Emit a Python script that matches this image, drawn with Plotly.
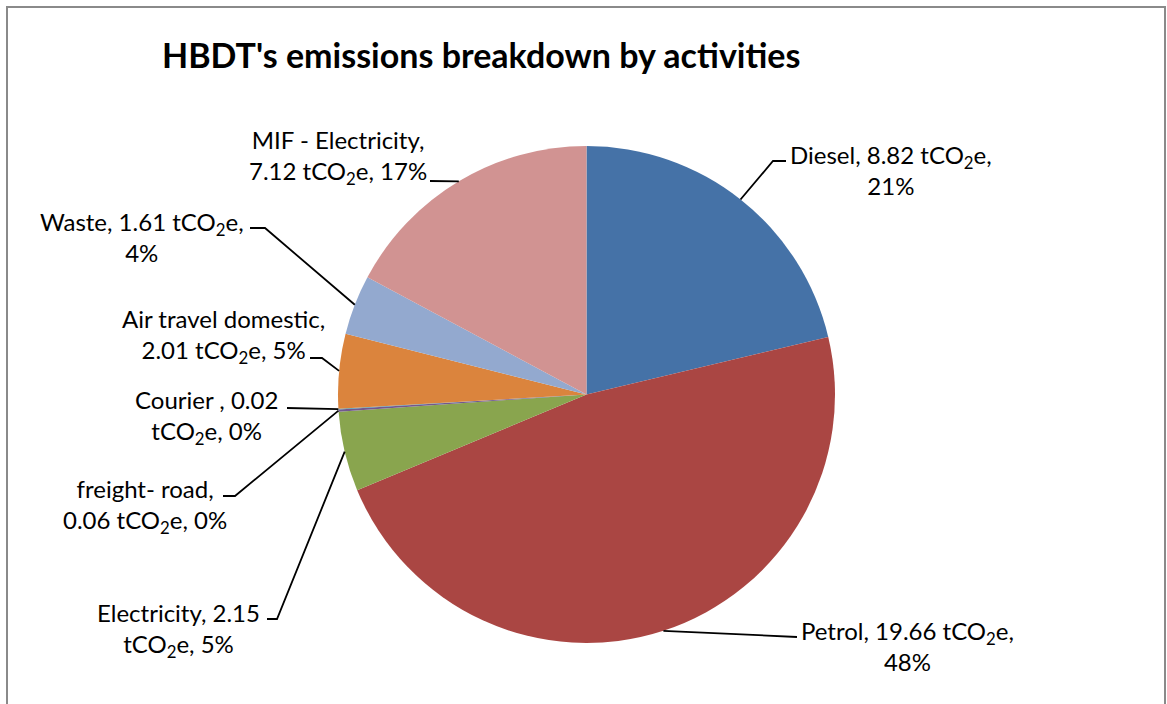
import math
import plotly.graph_objects as go

# ---------------- data ----------------
activities = ["Diesel", "Petrol", "Electricity", "freight- road", "Courier ",
              "Air travel domestic", "Waste", "MIF - Electricity"]
emissions_t = [8.82, 19.66, 2.15, 0.06, 0.02, 2.01, 1.61, 7.12]
share_labels = ["21%", "48%", "5%", "0%", "0%", "5%", "4%", "17%"]
title_text = "HBDT's emissions breakdown by activities"

# ---------------- styles / layout ----------------
colors = ["#4572A7", "#AA4643", "#89A54E", "#71588F", "#4198AF",
          "#DB843D", "#93A9CF", "#D19392"]
# where each label wraps: after the activity name, after the number, or after the unit
wrap_after = ["unit", "unit", "value", "label", "value", "label", "unit", "label"]
# label block centres (pixels), leader elbow and leader end (pixels; None = straight)
label_pos = [(891, 170), (907, 646), (178, 630), (145, 506),
             (206, 417), (223, 336), (142, 237), (338, 157)]
leader_elbow = [(773, 161), None, (277, 619), (235, 496),
                None, (322, 358), (265, 228), None]
leader_end = [(786, 161), (797, 637), (267, 619), (223, 496),
              (287, 408), (310, 358), (250, 228), (430, 181)]

W, H = 1167, 704
cx, cy, r = 586.5, 394.5, 248.5
FONT = "Lato"

fig = go.Figure()
fig.add_trace(go.Pie(
    labels=activities, values=emissions_t, sort=False, direction="clockwise",
    rotation=0, textinfo="none", showlegend=False,
    marker=dict(colors=colors, line=dict(width=0)),
    domain=dict(x=[(cx - r) / W, (cx + r) / W], y=[1 - (cy + r) / H, 1 - (cy - r) / H]),
))

# invisible pixel-space axes for labels and leader lines
fig.add_trace(go.Scatter(x=[0, W], y=[0, H], mode="markers",
                         marker=dict(opacity=0), hoverinfo="skip", showlegend=False))

total = sum(emissions_t)
cum = 0.0
shapes = []
annotations = []
for i, v in enumerate(emissions_t):
    theta = 2 * math.pi * (cum + v / 2) / total
    cum += v
    sx = cx + r * math.sin(theta)
    sy = cy - r * math.cos(theta)
    pts = [(sx, sy)]
    if leader_elbow[i] is not None:
        pts.append(leader_elbow[i])
    pts.append(leader_end[i])
    path = "M " + " L ".join(f"{px:.1f},{py:.1f}" for px, py in pts)
    shapes.append(dict(type="path", path=path, xref="x", yref="y",
                       line=dict(color="black", width=1.8)))

    name = activities[i]
    val = f"{v:.2f}"
    unit = "tCO<sub>2</sub>e"
    if wrap_after[i] == "label":
        txt = f"{name},<br>{val} {unit}, {share_labels[i]}"
    elif wrap_after[i] == "value":
        txt = f"{name}, {val}<br>{unit}, {share_labels[i]}"
    else:
        txt = f"{name}, {val} {unit},<br>{share_labels[i]}"
    lx, ly = label_pos[i]
    annotations.append(dict(x=lx, y=ly, xref="x", yref="y", text=txt,
                            showarrow=False, xanchor="center", yanchor="middle",
                            align="center", font=dict(family=FONT, size=24, color="#000000")))

annotations.append(dict(x=160, y=54, xref="x", yref="y", text=f"<b>{title_text}</b>",
                        showarrow=False, xanchor="left", yanchor="middle",
                        font=dict(family=FONT, size=34, color="#000000")))

# chart frame
shapes.append(dict(type="rect", xref="x", yref="y", x0=7, y0=7, x1=1165, y1=730,
                   line=dict(color="#8a8a8a", width=2)))

fig.update_layout(
    width=W, height=H, margin=dict(l=0, r=0, t=0, b=0),
    paper_bgcolor="white", plot_bgcolor="rgba(0,0,0,0)",
    xaxis=dict(range=[0, W], visible=False, fixedrange=True),
    yaxis=dict(range=[H, 0], visible=False, fixedrange=True),
    shapes=shapes, annotations=annotations,
)

fig.write_html("out.html", config={"displayModeBar": False},
               post_script="document.body.style.margin='0';document.body.style.overflow='hidden';")
